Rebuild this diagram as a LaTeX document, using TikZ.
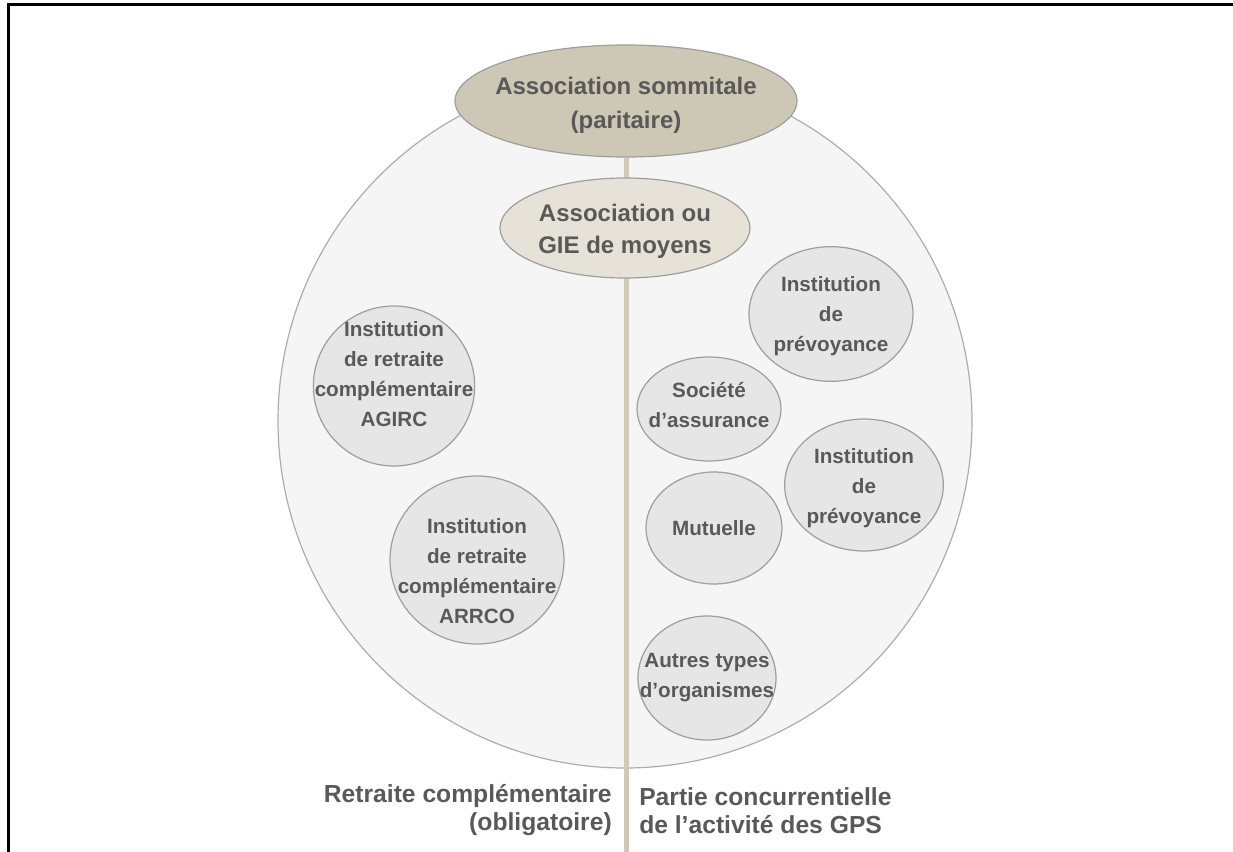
\documentclass[tikz,border=0pt]{standalone}
\usepackage{fontspec}
\setmainfont{Liberation Sans}
\usetikzlibrary{shapes.geometric,backgrounds}
\definecolor{txt}{HTML}{595959}
\definecolor{rim}{HTML}{9E9E9E}
\definecolor{khaki}{HTML}{CDC8B5}
\definecolor{sand}{HTML}{E6E2D8}
\definecolor{bubble}{HTML}{E6E6E6}
\definecolor{field}{HTML}{F5F5F5}
\definecolor{stemcol}{HTML}{CFC9B8}
\tikzset{
  oval/.style={ellipse, draw=rim, line width=0.9pt, inner sep=0pt},
  inner/.style={align=center, text=txt, inner sep=0pt,
    font=\bfseries\fontsize{15.5}{22.5}\selectfont},
  bigtext/.style={inner, font=\bfseries\fontsize{18}{25.5}\selectfont},
  hubtext/.style={inner, font=\bfseries\fontsize{18}{24}\selectfont},
  head/.style={oval, fill=khaki},
  hub/.style={oval, fill=sand},
  member/.style={oval, fill=bubble},
  caption/.style={text=txt, inner sep=0pt, font=\bfseries\fontsize{18.5}{21}\selectfont},
  stemline/.style={draw=stemcol, line width=3.75pt},
  frame/.style={draw=black, line width=2.25pt}
}
\begin{document}
\begin{tikzpicture}[x=0.75pt, y=-0.75pt]
\useasboundingbox (0,0) rectangle (1233,852);

% top governing body and the shared-means structure
\node[head, minimum width=256.5pt, minimum height=84pt,
  label={[bigtext, yshift=-3.5pt]center:{Association sommitale\\(paritaire)}}] (sommet) at (626,101) {};
\node[hub, minimum width=187.5pt, minimum height=75pt,
  label={[hubtext, yshift=-2.5pt]center:{Association ou\\GIE de moyens}}] (gie) at (625,228) {};

% mandatory supplementary pension side
\node[member, minimum width=121pt, minimum height=120pt,
  label={[inner, yshift=9pt]center:{Institution\\de retraite\\complémentaire\\AGIRC}}] (agirc) at (394,386) {};
\node[member, minimum width=130.5pt, minimum height=126pt,
  label={[inner, yshift=-8pt]center:{Institution\\de retraite\\complémentaire\\ARRCO}}] (arrco) at (477,560) {};

% competitive side
\node[member, minimum width=123pt, minimum height=101pt,
  label={[inner, yshift=-1.5pt]center:{Institution\\de\\prévoyance}}] (prevA) at (831,314) {};
\node[member, minimum width=108pt, minimum height=78pt,
  label={[inner, yshift=3pt]center:{Société\\d’assurance}}] (societe) at (709,409) {};
\node[member, minimum width=119pt, minimum height=99pt,
  label={[inner, yshift=-2.5pt]center:{Institution\\de\\prévoyance}}] (prevB) at (864,485) {};
\node[member, minimum width=102pt, minimum height=84pt,
  label={[inner]center:{Mutuelle}}] (mutuelle) at (714,528) {};
\node[member, minimum width=103.5pt, minimum height=93pt,
  label={[inner]center:{Autres types\\d’organismes}}] (autres) at (707,678) {};

% captions on both sides of the divider
\node[caption, anchor=east, align=right] (gauche) at (612,810)
  {Retraite complémentaire\\(obligatoire)};
\node[caption, anchor=west, align=left] (droite) at (639,811)
  {Partie concurrentielle\\de l’activité des GPS};

\coordinate (pied) at (626,852);

\begin{scope}[on background layer]
  % group perimeter
  \draw[fill=field, draw=rim!85, line width=0.9pt] (625,421) circle [radius=347];
  % divider running from the top body down through the group
  \draw[stemline] (sommet.south) -- (pied);
\end{scope}

% page frame (top and left edges)
\draw[frame] (8,852) -- (8,5) -- (1233,5);
\end{tikzpicture}
\end{document}
